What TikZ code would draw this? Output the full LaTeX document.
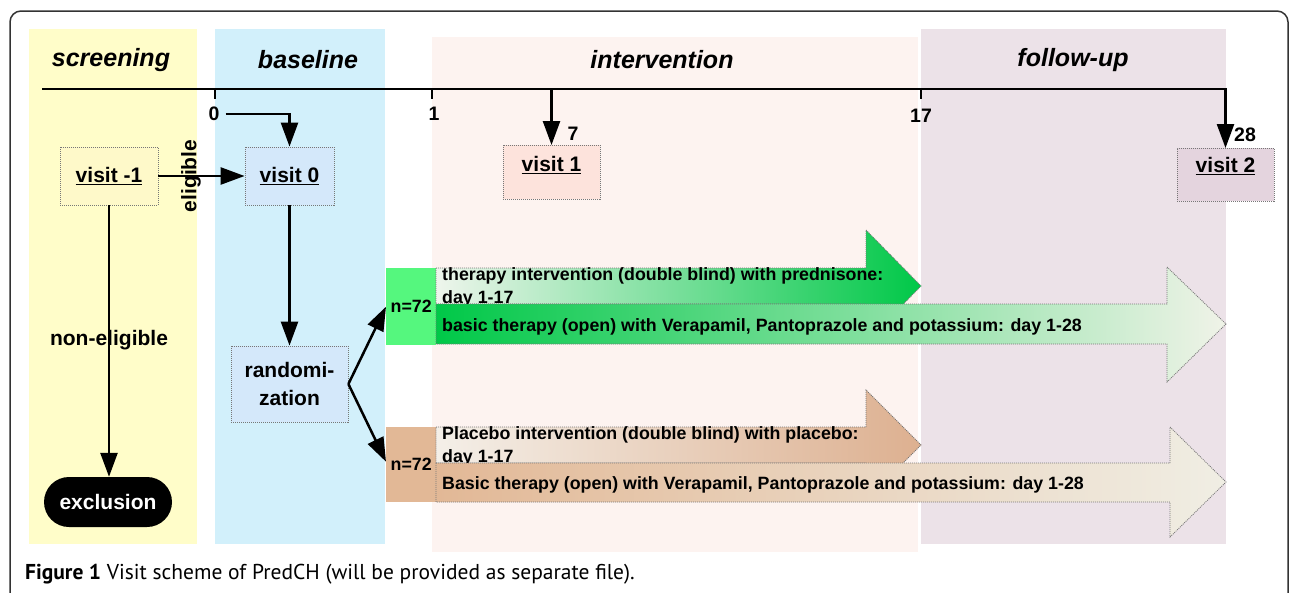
\documentclass[tikz,border=0pt]{standalone}
\usepackage{fontspec}
\setmainfont{Liberation Sans}
\newfontfamily\capfont{PT Sans}
\usetikzlibrary{arrows.meta}
\definecolor{pyellow}{HTML}{FFFDC9}
\definecolor{pblue}{HTML}{D2F0FB}
\definecolor{pinter}{HTML}{FDF3F0}
\definecolor{pfollow}{HTML}{ECE2E8}
\definecolor{byellow}{HTML}{FEF9C9}
\definecolor{bblue}{HTML}{D4E8FA}
\definecolor{bpink}{HTML}{FDE3DC}
\definecolor{bmauve}{HTML}{E4D4DE}
\definecolor{gblock}{HTML}{55F77E}
\definecolor{gdark}{HTML}{00C848}
\definecolor{glight}{HTML}{EEF5EC}
\definecolor{glight2}{HTML}{F0F3E8}
\definecolor{tblock}{HTML}{E2B896}
\definecolor{tdark}{HTML}{DDB090}
\definecolor{tlight}{HTML}{F4EFE8}
\definecolor{tlight2}{HTML}{F0EEE4}
\definecolor{dotgray}{HTML}{777777}
\tikzset{
  panel/.style={draw=none},
  vbox/.style={draw=dotgray, dash pattern=on 1pt off 1pt, line width=0.8pt, inner sep=0pt},
  vtext/.style={font=\bfseries\fontsize{21}{25}\selectfont, inner sep=0pt},
  arr/.style={line width=2.5pt, -{Triangle[length=24pt,width=17pt]}},
  tick/.style={line width=2.5pt},
  head/.style={font=\bfseries\itshape\fontsize{25}{28}\selectfont},
  num/.style={font=\bfseries\fontsize{19.5}{22}\selectfont, inner sep=0pt},
  atxt/.style={font=\bfseries\fontsize{17.8}{23}\selectfont, inner sep=0pt, align=left},
  arrshape/.style={draw=dotgray, dash pattern=on 1pt off 1pt, line width=0.8pt},
}
\begin{document}
\begin{tikzpicture}[x=1pt,y=-1pt]
\useasboundingbox (0,0) rectangle (1290,592);
% frame
\draw[line width=1.5pt, draw=black!80, rounded corners=11pt] (10,600) -- (10,11) -- (1288,11) -- (1288,600);
% panels
\fill[pyellow] (29,29) rectangle (197,544);
\fill[pblue] (215,29) rectangle (385,544);
\fill[pinter] (432,37) rectangle (918,552);
\fill[pfollow] (921,29) rectangle (1226,544);
% headings
\node[head] (hscr) at (111,60) {screening};
\node[head] (hbas) at (308,60) {baseline};
\node[head] (hint) at (662,60) {intervention};
\node[head] (hfol) at (1073,60) {follow-up};
% boxes
\node[vbox, fill=byellow, minimum width=98, minimum height=58, vtext] (vm1) at (109,176) {\underline{visit -1}};
\node[vbox, fill=bblue, minimum width=89, minimum height=58, vtext] (v0) at (289.5,176) {\underline{visit 0}};
\node[vbox, fill=bpink, minimum width=97, minimum height=54, anchor=north,
  label={[vtext, anchor=north, yshift=-11pt]north:\underline{visit 1}}] (v1) at (551.5,145) {};
\node[vbox, fill=bmauve, minimum width=97, minimum height=53, anchor=north,
  label={[vtext, anchor=north, yshift=-9pt]north:\underline{visit 2}}] (v2) at (1225.5,148) {};
\node[vbox, fill=bblue, minimum width=117, minimum height=76, vtext, align=center,
  font=\bfseries\fontsize{21}{28}\selectfont] (rand) at (289.5,384) {randomi-\\zation};
\node[fill=black, rounded corners=25pt, minimum width=128, minimum height=50, text=white,
  font=\bfseries\fontsize{21}{25}\selectfont] (excl) at (108,502) {exclusion};
% timeline
\coordinate (tl0) at (42,89);
\draw[arr] (tl0) -| (v2.north);
\draw[tick] (215,88) -- (215,99);
\draw[tick] (432,88) -- (432,99);
\draw[tick] (921,88) -- (921,99);
\node[num] (lab0) at (214,114) {0};
\node[num] (lab1) at (434,114) {1};
\node[num] (lab17) at (921,116) {17};
\node[num] (lab7) at (573,134) {7};
\node[num] (lab28) at (1245,135) {28};
\draw[arr] (v1.north |- tl0) -- (v1.north);
\draw[arr] ([xshift=6pt]lab0.east) -| (v0.north);
% flow
\draw[arr] (vm1) -- (v0);
\node[vtext, rotate=90] (elig) at (191,176) {eligible};
\draw[arr] (vm1.south) -- (vm1.south |- excl.north);
\node[vtext] (nonel) at (109,340) {non-eligible};
\draw[arr] (v0) -- (rand);
% groups
\node[fill=gblock, minimum width=50, minimum height=77, inner sep=0pt, anchor=north west,
  font=\bfseries\fontsize{17.8}{20}\selectfont] (n1) at (386,268) {n=72};
\node[fill=tblock, minimum width=50, minimum height=75, inner sep=0pt, anchor=north west,
  font=\bfseries\fontsize{17.8}{20}\selectfont] (n2) at (386,427) {\raisebox{-4pt}{n=72}};
\draw[arr] (rand.east) -- (n1.west);
\draw[arr] (rand.east) -- ([yshift=3pt]n2.west);
% green arrows
\shadedraw[arrshape, left color=glight, right color=gdark]
  (436,268) -- (866,268) -- (866,230) -- (921,286) -- (866,342) -- (866,304) -- (436,304) -- cycle;
\node[atxt, anchor=north west] (t1) at (442,267) {therapy intervention (double blind) with prednisone:\\day 1-17};
\shadedraw[arrshape, left color=gdark, right color=glight2]
  (436,304) -- (1167,304) -- (1167,267) -- (1226,324) -- (1167,382) -- (1167,344) -- (436,344) -- cycle;
\node[atxt, anchor=base west] (t2) at (442,331) {basic therapy (open) with Verapamil, Pantoprazole and potassium: day 1-28};
% tan arrows
\shadedraw[arrshape, left color=tlight, right color=tdark]
  (436,427) -- (866,427) -- (866,390) -- (921,445) -- (866,500) -- (866,463) -- (436,463) -- cycle;
\node[atxt, anchor=north west] (t3) at (442,426) {Placebo intervention (double blind) with placebo:\\day 1-17};
\shadedraw[arrshape, left color=tblock, right color=tlight2]
  (436,463) -- (1170,463) -- (1170,427) -- (1226,482) -- (1170,537) -- (1170,502) -- (436,502) -- cycle;
\node[atxt, anchor=base west] (t4) at (442,489) {Basic therapy (open) with Verapamil, Pantoprazole and potassium: day 1-28};
% caption
\node[anchor=base west, inner sep=0pt, font=\capfont\fontsize{21.5}{24}\selectfont] (cap) at (25,579)
  {\textbf{Figure 1} Visit scheme of PredCH (will be provided as separate file).};
\end{tikzpicture}
\end{document}
